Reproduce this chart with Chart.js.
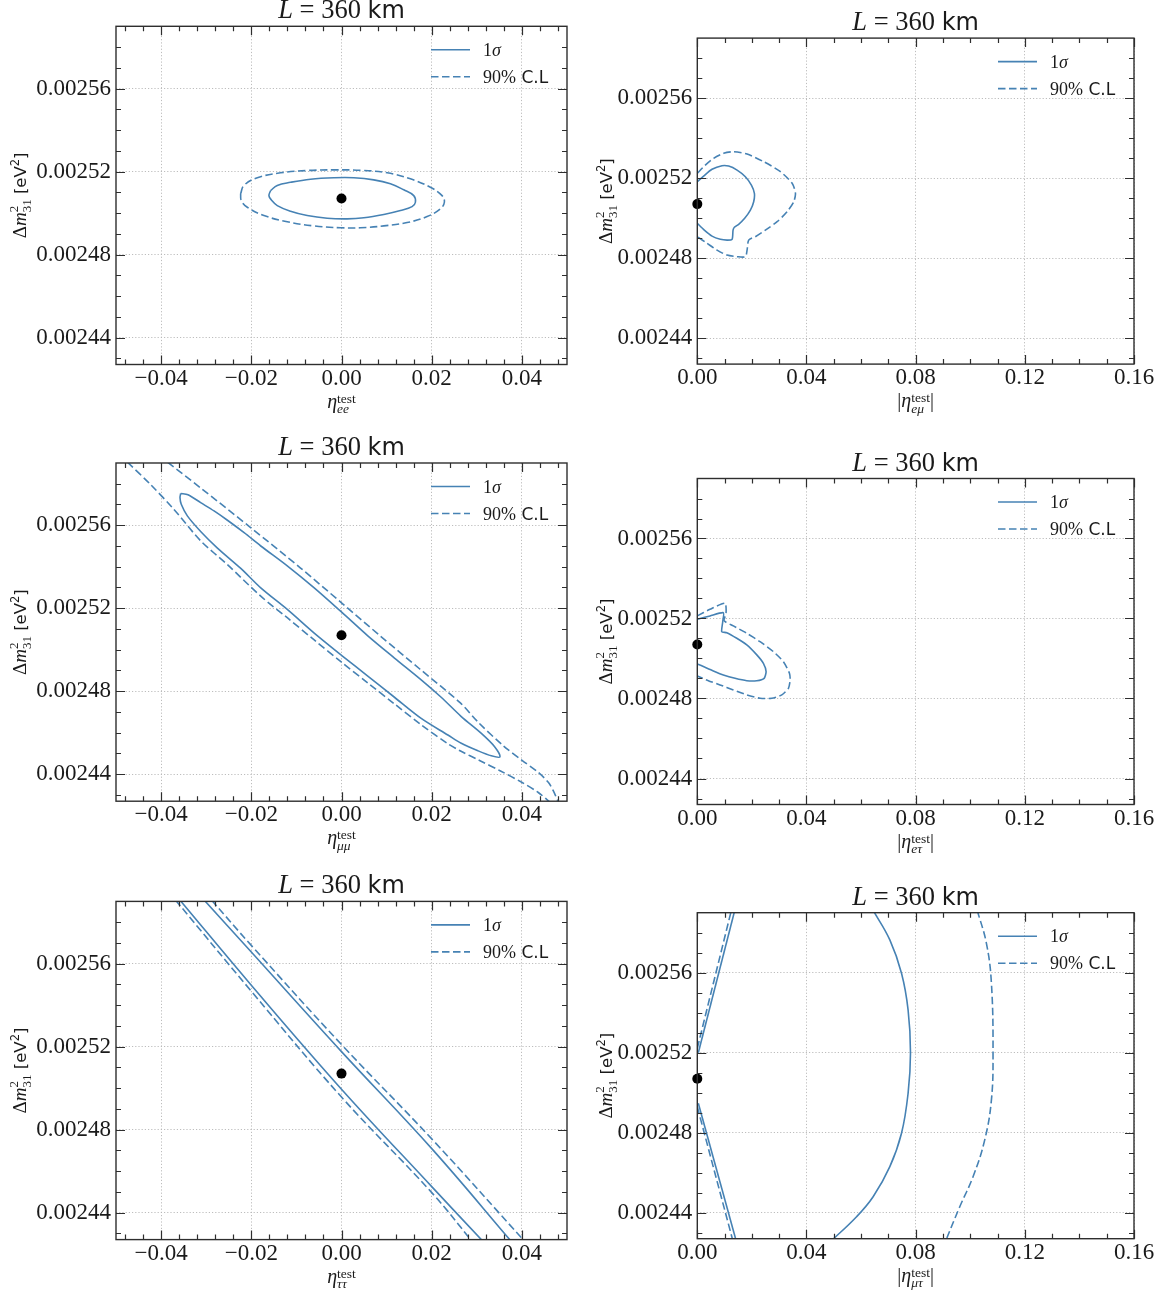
<!DOCTYPE html>
<html><head><meta charset="utf-8">
<script src="https://cdn.jsdelivr.net/npm/chart.js@4/dist/chart.umd.min.js"></script>
<style>
html,body{margin:0;padding:0;background:#fff;}
body{width:1168px;height:1299px;overflow:hidden;position:relative;}
canvas{position:absolute;}
</style></head><body>
<script>
// ---------------- DATA ----------------
const seriesLabels = ['1σ', '90% C.L'];
const titleParts = ['L', ' = 360 ', 'km'];
const xLabelSubs = ['ee', 'eμ', 'μμ', 'eτ', 'ττ', 'μτ'];
const xLabelAbs = [false, true, false, true, false, true];

const xMajorEta = [-0.04, -0.02, 0, 0.02, 0.04];
const xMinorEta = [-0.048,-0.044,-0.036,-0.032,-0.028,-0.024,-0.016,-0.012,-0.008,-0.004,0.004,0.008,0.012,0.016,0.024,0.028,0.032,0.036,0.044,0.048];
const xMajorAbs = [0, 0.04, 0.08, 0.12, 0.16];
const xMinorAbs = [0.01,0.02,0.03,0.05,0.06,0.07,0.09,0.10,0.11,0.13,0.14,0.15];
const yMajor = [0.00244, 0.00248, 0.00252, 0.00256];
const yMinor = [0.00243,0.00245,0.00246,0.00247,0.00249,0.00250,0.00251,0.00253,0.00254,0.00255,0.00257,0.00258];
const xRangeEta = [-0.05, 0.05];
const xRangeAbs = [0, 0.16];
const yRange = [0.002427, 0.00259];

const bestFitX = [0];
const bestFitY = [0.002507];

// eta_ee
const eeSolidX = [-0.01573,-0.01424,-0.01130,-0.00687,-0.00170,0.00273,0.00716,0.01085,0.01381,0.01602,0.01639,0.01565,0.01307,0.00938,0.00495,0.00125,-0.00318,-0.00760,-0.01130,-0.01424,-0.01558,-0.01609,-0.01573];
const eeSolidY = [0.0025108,0.0025133,0.0025148,0.0025163,0.0025170,0.0025170,0.0025160,0.0025141,0.0025112,0.0025084,0.0025052,0.0025031,0.0025012,0.0024993,0.0024977,0.0024972,0.0024975,0.0024988,0.0025009,0.0025036,0.0025064,0.0025084,0.0025108];
const eeDashX = [-0.02237,-0.02164,-0.01867,-0.01351,-0.00760,-0.00170,0.00421,0.01012,0.01528,0.01971,0.02230,0.02281,0.02193,0.01898,0.01455,0.00938,0.00421,-0.00022,-0.00613,-0.01203,-0.01720,-0.02089,-0.02222,-0.02237];
const eeDashY = [0.0025093,0.0025133,0.0025170,0.0025194,0.0025205,0.0025208,0.0025206,0.0025194,0.0025165,0.0025124,0.0025084,0.0025052,0.0025020,0.0024983,0.0024954,0.0024938,0.0024929,0.0024929,0.0024938,0.0024958,0.0024988,0.0025028,0.0025060,0.0025093];

// |eta_emu|
const emSolidX = [0,0.00231,0.00539,0.00906,0.01149,0.01457,0.01761,0.01982,0.02092,0.02066,0.01945,0.01736,0.01516,0.01358,0.01310,0.01273,0.01090,0.00844,0.00539,0.00257,0];
const emSolidY = [0.0025182,0.0025210,0.0025244,0.0025262,0.0025260,0.0025240,0.0025207,0.0025165,0.0025124,0.0025082,0.0025040,0.0024999,0.0024969,0.0024954,0.0024940,0.0024894,0.0024890,0.0024894,0.0024910,0.0024940,0.0024974];
const emDashX = [0,0.00294,0.00598,0.00965,0.01332,0.01824,0.02433,0.03046,0.03475,0.03596,0.03534,0.03292,0.02925,0.02495,0.02128,0.01883,0.01824,0.01761,0.01457,0.01090,0.00723,0.00356,0];
const emDashY = [0.0025224,0.0025265,0.0025299,0.0025324,0.0025332,0.0025320,0.0025282,0.0025232,0.0025174,0.0025124,0.0025082,0.0025032,0.0024982,0.0024940,0.0024907,0.0024890,0.0024840,0.0024807,0.0024807,0.0024815,0.0024840,0.0024874,0.0024907];

// eta_mumu
const mmSolidX = [-0.03566,-0.03404,-0.03123,-0.02826,-0.02529,-0.02159,-0.01790,-0.01196,-0.00605,0.00004,0.00583,0.01174,0.01767,0.02210,0.02656,0.03101,0.03395,0.03515,0.03322,0.03025,0.02656,0.02359,0.01767,0.01174,0.00583,0,-0.00605,-0.01196,-0.01790,-0.02233,-0.02751,-0.03123,-0.03418,-0.03553,-0.03581,-0.03566];
const mmSolidY = [0.0025753,0.0025747,0.0025709,0.0025669,0.0025624,0.0025564,0.0025500,0.0025403,0.0025298,0.0025181,0.0025067,0.0024960,0.0024855,0.0024771,0.0024678,0.0024597,0.0024533,0.0024484,0.0024489,0.0024513,0.0024549,0.0024589,0.0024669,0.0024771,0.0024873,0.0024973,0.0025080,0.0025193,0.0025298,0.0025392,0.0025490,0.0025570,0.0025645,0.0025701,0.0025733,0.0025753];
const mmDashUpX = [-0.03852,-0.03130,-0.02022,-0.00915,0,0.00857,0.01743,0.02629,0.03034,0.03588,0.03996,0.04363,0.04585,0.04695,0.04813];
const mmDashUpY = [0.0025903,0.0025781,0.0025590,0.0025395,0.0025226,0.0025067,0.0024906,0.0024745,0.0024650,0.0024537,0.0024468,0.0024409,0.0024361,0.0024321,0.0024262];
const mmDashLoX = [-0.04740,-0.04233,-0.03714,-0.03123,-0.02529,-0.01790,-0.01196,-0.00605,0,0.00583,0.01174,0.01767,0.02359,0.02629,0.03072,0.03515,0.03996,0.04363,0.04641];
const mmDashLoY = [0.0025903,0.0025796,0.0025676,0.0025525,0.0025410,0.0025258,0.0025153,0.0025047,0.0024940,0.0024840,0.0024739,0.0024638,0.0024547,0.0024513,0.0024465,0.0024417,0.0024361,0.0024312,0.0024262];

// |eta_etau|
const etSolidX = [0,0.00466,0.00954,0.00932,0.00895,0.01079,0.01446,0.01813,0.02180,0.02422,0.02521,0.02448,0.02180,0.01813,0.01383,0.00954,0.00587,0.00283,0];
const etSolidY = [0.0025196,0.0025213,0.0025229,0.0025184,0.0025134,0.0025129,0.0025101,0.0025068,0.0025018,0.0024976,0.0024934,0.0024901,0.0024889,0.0024889,0.0024901,0.0024918,0.0024938,0.0024956,0.0024973];
const etDashX = [0,0.00466,0.01017,0.01053,0.00980,0.01321,0.01813,0.02301,0.02789,0.03156,0.03376,0.03402,0.03339,0.03097,0.02730,0.02301,0.01813,0.01321,0.00833,0.00404,0];
const etDashY = [0.0025213,0.0025246,0.0025276,0.0025226,0.0025189,0.0025163,0.0025126,0.0025084,0.0025034,0.0024984,0.0024926,0.0024893,0.0024851,0.0024818,0.0024801,0.0024801,0.0024818,0.0024843,0.0024868,0.0024889,0.0024913];

// eta_tautau
const ttDashLX = [-0.03683,-0.02000,0,0.02011,0.02935];
const ttDashLY = [0.0025907,0.0025467,0.0024957,0.0024494,0.0024251];
const ttSolidLX = [-0.03586,-0.02000,0,0.02011,0.03183];
const ttSolidLY = [0.0025907,0.0025496,0.0024995,0.0024523,0.0024251];
const ttSolidRX = [-0.03048,-0.02000,0,0.02011,0.03805];
const ttSolidRY = [0.0025907,0.0025656,0.0025176,0.0024706,0.0024251];
const ttDashRX = [-0.02884,-0.02000,0,0.02011,0.04106];
const ttDashRY = [0.0025907,0.0025688,0.0025210,0.0024753,0.0024251];

// |eta_mutau|
const mtSolidUpX = [0.00037,0.01373];
const mtSolidUpY = [0.00252,0.0025912];
const mtDashUpX = [0,0.01248];
const mtDashUpY = [0.0025222,0.0025912];
const mtSolidLoX = [0.00037,0.01435];
const mtSolidLoY = [0.0024947,0.0024254];
const mtDashLoX = [0,0.01314];
const mtDashLoY = [0.0024930,0.0024254];
const mtArcSolidX = [0.06442,0.07054,0.07482,0.07723,0.07811,0.07723,0.07482,0.07054,0.06442,0.05835,0.04868];
const mtArcSolidY = [0.0025912,0.0025764,0.0025597,0.0025414,0.0025200,0.0024997,0.0024797,0.0024630,0.0024480,0.0024380,0.0024254];
const mtArcDashX = [0.10256,0.10593,0.10776,0.10835,0.10776,0.10531,0.10103,0.09616,0.09085];
const mtArcDashY = [0.0025912,0.0025747,0.0025547,0.0025197,0.0024964,0.0024764,0.0024580,0.0024430,0.0024254];

// curves per panel: [xs, ys, seriesIndex (0 = 1σ, 1 = 90%), tension]
const panelCurves = [
  [[eeSolidX,eeSolidY,0,0.4],[eeDashX,eeDashY,1,0.4]],
  [[emSolidX,emSolidY,0,0.25],[emDashX,emDashY,1,0.25]],
  [[mmSolidX,mmSolidY,0,0.3],[mmDashUpX,mmDashUpY,1,0.3],[mmDashLoX,mmDashLoY,1,0.3]],
  [[etSolidX,etSolidY,0,0.2],[etDashX,etDashY,1,0.2]],
  [[ttSolidLX,ttSolidLY,0,0.4],[ttSolidRX,ttSolidRY,0,0.4],[ttDashLX,ttDashLY,1,0.4],[ttDashRX,ttDashRY,1,0.4]],
  [[mtSolidUpX,mtSolidUpY,0,0],[mtDashUpX,mtDashUpY,1,0],[mtSolidLoX,mtSolidLoY,0,0],[mtDashLoX,mtDashLoY,1,0],[mtArcSolidX,mtArcSolidY,0,0.4],[mtArcDashX,mtArcDashY,1,0.4]]
];

// ---------------- LAYOUT / STYLE ----------------
const frames = [
  {left:116, right:567, top:26.3, bottom:364.5},
  {left:697.3, right:1134, top:38.1, bottom:364.1},
  {left:116, right:567, top:463, bottom:801.2},
  {left:697.3, right:1134, top:478.5, bottom:804.5},
  {left:116, right:567, top:901.4, bottom:1239.6},
  {left:697.3, right:1134, top:912.7, bottom:1238.7}
];
const LINE = '#4682b4';
const DASH = [7.5, 3.5];
const SER = s => `${s}px "Liberation Serif"`;
const SERI = s => `italic ${s}px "Liberation Serif"`;
const SANS = s => `${s}px "DejaVu Sans"`;
const TEXT = '#1a1a1a';
const AXC = '#2e2e2e';

function drawRuns(ctx, runs, x, y, align) {
  const widths = runs.map(r => {
    if (r.t !== undefined) { ctx.font = r.font; return ctx.measureText(r.t).width; }
    ctx.font = r.fsup; const a = ctx.measureText(r.sup).width;
    ctx.font = r.fsub; const b = ctx.measureText(r.sub).width;
    return Math.max(a, b);
  });
  const total = widths.reduce((s, w) => s + w, 0);
  let cx = align === 'center' ? x - total / 2 : x;
  runs.forEach((r, i) => {
    if (r.t !== undefined) { ctx.font = r.font; ctx.fillText(r.t, cx, y + (r.dy || 0)); }
    else {
      ctx.font = r.fsup; ctx.fillText(r.sup, cx, y - r.up);
      ctx.font = r.fsub; ctx.fillText(r.sub, cx, y + r.down);
    }
    cx += widths[i];
  });
}
function labelRuns(s, size) {
  // digits & % -> serif, greek -> serif italic, latin -> sans
  const runs = [];
  for (const ch of s) {
    let f;
    if (/[0-9%]/.test(ch)) f = SER(size);
    else if (/[\u0370-\u03ff]/.test(ch)) f = SERI(size);
    else f = SANS(size - 1);
    const last = runs[runs.length - 1];
    if (last && last.font === f) last.t += ch; else runs.push({t: ch, font: f});
  }
  return runs;
}
const fmtX = v => { const s = Math.abs(v) < 1e-12 ? '0.00' : v.toFixed(2); return s.replace('-', '\u2212'); };
const fmtY = v => v.toFixed(5);

const deco = {
  id: 'deco',
  afterDraw(chart, args, o) {
    const {ctx, chartArea: a, scales: {x, y}} = chart;
    ctx.save();
    // ticks (inward, all four sides)
    ctx.strokeStyle = AXC; ctx.lineWidth = 1.2;
    ctx.beginPath();
    const xt = (vals, len) => vals.forEach(v => {
      const p = Math.round(x.getPixelForValue(v)) + 0.5;
      ctx.moveTo(p, a.bottom); ctx.lineTo(p, a.bottom - len);
      ctx.moveTo(p, a.top); ctx.lineTo(p, a.top + len);
    });
    const yt = (vals, len) => vals.forEach(v => {
      const p = Math.round(y.getPixelForValue(v)) + 0.5;
      ctx.moveTo(a.left, p); ctx.lineTo(a.left + len, p);
      ctx.moveTo(a.right, p); ctx.lineTo(a.right - len, p);
    });
    xt(x.ticks.map(t => t.value), 9); xt(o.xMinor, 5);
    yt(y.ticks.map(t => t.value), 9); yt(o.yMinor, 5);
    ctx.stroke();
    // frame
    ctx.lineWidth = 1.4; ctx.strokeStyle = AXC;
    ctx.strokeRect(a.left, a.top, a.right - a.left, a.bottom - a.top);
    // legend
    ctx.fillStyle = TEXT; ctx.textBaseline = 'alphabetic'; ctx.textAlign = 'left';
    seriesLabels.forEach((lab, i) => {
      const ly = a.top + 23.5 + i * 27;
      ctx.save();
      ctx.strokeStyle = LINE; ctx.lineWidth = 1.6; ctx.setLineDash(i === 1 ? DASH : []);
      ctx.beginPath(); ctx.moveTo(a.right - 136, ly); ctx.lineTo(a.right - 97, ly); ctx.stroke();
      ctx.restore();
      drawRuns(ctx, labelRuns(lab, 18), a.right - 84, ly + 6, 'left');
    });
    // title
    const cxm = (a.left + a.right) / 2;
    drawRuns(ctx, [
      {t: titleParts[0], font: SERI(26.5)},
      {t: titleParts[1], font: SER(26.5)},
      {t: titleParts[2], font: SANS(24)}
    ], cxm, a.top - 8, 'center');
    // x label
    const eta = [{t: 'η', font: SERI(20)}, {sup: 'test', sub: o.sub, fsup: SER(13.5), fsub: SERI(13.5), up: 5, down: 5.5}];
    const xr = o.abs ? [{t: '|', font: SER(20)}, ...eta, {t: '|', font: SER(20)}] : eta;
    drawRuns(ctx, xr, cxm, a.bottom + 43, 'center');
    // y label
    ctx.translate(a.left - o.yoff, (a.top + a.bottom) / 2);
    ctx.rotate(-Math.PI / 2);
    drawRuns(ctx, [
      {t: 'Δ', font: SER(19)},
      {t: 'm', font: SERI(19)},
      {sup: '2', sub: '31', fsup: SER(13), fsub: SER(13), up: 8, down: 4.5},
      {t: ' [eV', font: SANS(16.5)},
      {t: '2', font: SANS(11.5), dy: -7.5},
      {t: ']', font: SANS(16.5)}
    ], 0, 0, 'center');
    ctx.restore();
  }
};

const CW = 584, YW = 100, XH = 40;
frames.forEach((fr, i) => {
  const col = i % 2;
  const abs = xLabelAbs[i];
  const canvasLeft = col * CW;
  const canvasTop = Math.floor(fr.top) - 40;
  const canvasH = Math.ceil(fr.bottom) + 75 - canvasTop;
  const cv = document.createElement('canvas');
  cv.width = CW; cv.height = canvasH;
  cv.style.left = canvasLeft + 'px'; cv.style.top = canvasTop + 'px';
  cv.style.width = CW + 'px'; cv.style.height = canvasH + 'px';
  document.body.appendChild(cv);

  const pad = {
    left: fr.left - canvasLeft - YW,
    right: canvasLeft + CW - fr.right,
    top: fr.top - canvasTop,
    bottom: canvasH - (fr.bottom - canvasTop) - XH
  };
  const datasets = [{
    label: 'best fit',
    data: bestFitX.map((v, k) => ({x: v, y: bestFitY[k]})),
    showLine: false, pointRadius: 5, pointBackgroundColor: '#000', pointBorderColor: '#000',
    pointBorderWidth: 0, clip: false
  }];
  panelCurves[i].forEach(([xs, ys, s, ten]) => {
    datasets.push({
      label: seriesLabels[s],
      data: xs.map((v, k) => ({x: v, y: ys[k]})),
      showLine: true, pointRadius: 0, borderColor: LINE, borderWidth: 1.6,
      borderDash: s === 1 ? DASH : [], tension: ten, fill: false
    });
  });
  const xMajor = abs ? xMajorAbs : xMajorEta;
  const xr = abs ? xRangeAbs : xRangeEta;
  new Chart(cv, {
    type: 'scatter',
    data: {datasets},
    options: {
      responsive: false, animation: false, devicePixelRatio: 1, events: [],
      layout: {padding: pad},
      plugins: {
        legend: {display: false}, tooltip: {enabled: false}, title: {display: false},
        deco: {xMinor: abs ? xMinorAbs : xMinorEta, yMinor: yMinor, sub: xLabelSubs[i], abs: abs, yoff: col === 0 ? 90 : 85}
      },
      scales: {
        x: {
          type: 'linear', min: xr[0], max: xr[1],
          afterBuildTicks: s => { s.ticks = xMajor.map(v => ({value: v})); },
          afterFit: s => { s.height = XH; },
          ticks: {autoSkip: false, maxRotation: 0, padding: 2.5, color: TEXT,
                  font: {family: '"Liberation Serif"', size: 23, lineHeight: 1}, callback: v => fmtX(v)},
          grid: {color: '#b5b5b5', lineWidth: 0.9, drawTicks: false},
          border: {display: false, dash: [1.2, 2]}
        },
        y: {
          type: 'linear', min: yRange[0], max: yRange[1],
          afterBuildTicks: s => { s.ticks = yMajor.map(v => ({value: v})); },
          afterFit: s => { s.width = YW; },
          ticks: {autoSkip: false, padding: 5, color: TEXT,
                  font: {family: '"Liberation Serif"', size: 23, lineHeight: 1}, callback: v => fmtY(v)},
          grid: {color: '#b5b5b5', lineWidth: 0.9, drawTicks: false},
          border: {display: false, dash: [1.2, 2]}
        }
      }
    },
    plugins: [deco]
  });
});
</script>
</body></html>
